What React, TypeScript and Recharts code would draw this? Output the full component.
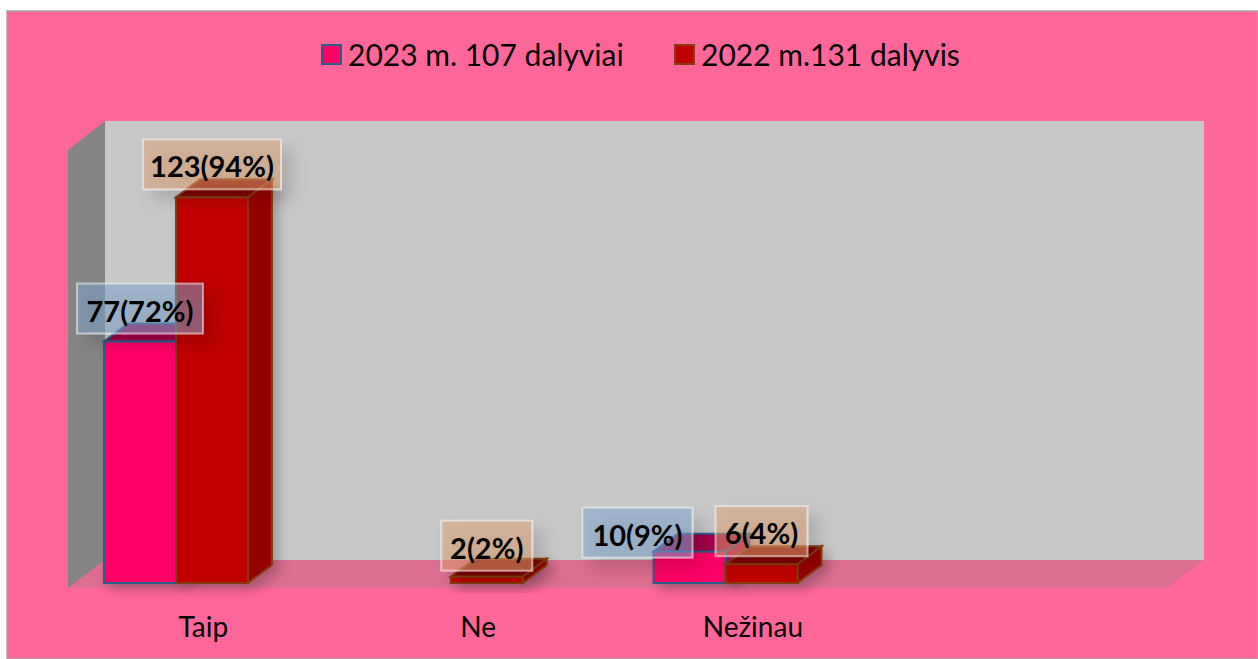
import { Bar, BarChart, LabelList, Legend, XAxis, YAxis } from "recharts";

const categories = ["Taip", "Ne", "Nežinau", ""];
const series2023 = [77, null, 10, null];
const series2022 = [123, 2, 6, null];
const labels2023 = ["77(72%)", null, "10(9%)", null];
const labels2022 = ["123(94%)", "2(2%)", "6(4%)", null];
const name2023 = "2023 m. 107 dalyviai";
const name2022 = "2022 m.131 dalyvis";

const data = categories.map((name, i) => ({
  name,
  y2023: series2023[i],
  y2022: series2022[i],
  label2023: labels2023[i],
  label2022: labels2022[i],
}));

const FONT = "Lato, 'Open Sans', sans-serif";
const DEPTH_X = 24;
const DEPTH_Y = 18;

const PINK = { front: "#FF0066", top: "#A30049", side: "#B00050", line: "#2A5C8C" };
const RED = { front: "#C00000", top: "#800000", side: "#960000", line: "#843C0C" };

// box widths of the data labels, the Excel ones hug the text
const boxWidths: Record<string, number> = {
  "123(94%)": 138,
  "77(72%)": 126,
  "2(2%)": 91,
  "10(9%)": 110,
  "6(4%)": 92,
};
// this one was dragged away from its bar in the original
const boxNudgeX: Record<string, number> = { "10(9%)": -52 };
const boxNudgeY: Record<string, number> = { "10(9%)": 14, "2(2%)": 2 };

const Bar3D = (props: any) => {
  const { x, y, width, height, colors } = props;
  if (!height || height <= 0) return null;
  const right = x + width;
  const bottom = y + height;
  return (
    <g filter="url(#barShadow)">
      <polygon
        points={`${x},${y} ${x + DEPTH_X},${y - DEPTH_Y} ${right + DEPTH_X},${y - DEPTH_Y} ${right},${y}`}
        fill={colors.top}
        stroke={colors.line}
        strokeWidth={2}
      />
      <polygon
        points={`${right},${y} ${right + DEPTH_X},${y - DEPTH_Y} ${right + DEPTH_X},${bottom - DEPTH_Y} ${right},${bottom}`}
        fill={colors.side}
        stroke={colors.line}
        strokeWidth={2}
      />
      <rect x={x} y={y} width={width} height={height} fill={colors.front} stroke={colors.line} strokeWidth={2} />
    </g>
  );
};

const makeLabel = (fill: string) => (props: any) => {
  const { x, y, width, value } = props;
  if (!value) return null;
  const w = boxWidths[value] ?? 100;
  const cx = x + width / 2 + (boxNudgeX[value] ?? 0);
  const cy = y - 33 + (boxNudgeY[value] ?? 0);
  return (
    <g>
      <rect
        x={cx - w / 2}
        y={cy - 25}
        width={w}
        height={50}
        fill={fill}
        fillOpacity={0.5}
        stroke="#fff"
        strokeOpacity={0.5}
        strokeWidth={2}
        filter="url(#boxShadow)"
      />
      <text x={cx} y={cy + 13} textAnchor="middle" fontFamily={FONT} fontWeight={700} fontSize={29} fill="#000">
        {value}
      </text>
    </g>
  );
};

const ChartLegend = () => (
  <div style={{ position: "relative", height: 0, fontFamily: FONT, fontSize: 30, color: "#000" }}>
    {[
      { name: name2023, colors: PINK, left: 321 },
      { name: name2022, colors: RED, left: 674 },
    ].map((item) => (
      <div key={item.name} style={{ position: "absolute", left: item.left, top: 0, display: "flex", alignItems: "center", whiteSpace: "nowrap", height: 40 }}>
        <span
          style={{
            width: 17,
            height: 17,
            background: item.colors.front,
            border: `2px solid ${item.colors.line}`,
            marginRight: 6,
          }}
        />
        {item.name}
      </div>
    ))}
  </div>
);

export default function App() {
  return (
    <div style={{ position: "absolute", left: 0, top: 0, width: 1258, height: 659, overflow: "hidden", background: "#fff" }}>
      <BarChart
        width={1258}
        height={659}
        data={data}
        barSize={72}
        barGap={0}
        margin={{ top: 144, right: 120, bottom: 16, left: 39 }}
      >
        <defs>
          <filter id="barShadow" x="-30%" y="-30%" width="170%" height="170%">
            <feDropShadow dx={6} dy={6} stdDeviation={6} floodColor="#000" floodOpacity={0.22} />
          </filter>
          <filter id="boxShadow" x="-30%" y="-40%" width="170%" height="190%">
            <feDropShadow dx={10} dy={10} stdDeviation={8} floodColor="#000" floodOpacity={0.28} />
          </filter>
        </defs>

        <rect x={7} y={11} width={1251} height={648} fill="#FF6699" stroke="#A8A8A8" strokeWidth={1.5} />
        <polygon points="105,121 1204,121 1204,560 105,560" fill="#C8C8C8" />
        <polygon points="68,150 105,121 105,560 68,588" fill="#858585" />
        <polygon points="68,588 105,560 1204,560 1167,588" fill="#DC6E90" />

        <YAxis yAxisId="bars" hide domain={[0, 140]} />
        <YAxis yAxisId="labels" hide domain={[0, 140]} />
        <XAxis xAxisId="bars" dataKey="name" hide />
        <XAxis
          xAxisId="labels"
          dataKey="name"
          height={60}
          dx={27}
          dy={-24}
          interval={0}
          axisLine={false}
          tickLine={false}
          tickMargin={22}
          tick={{ fill: "#000", fontSize: 28, fontFamily: FONT }}
        />
        <Legend content={<ChartLegend />} wrapperStyle={{ top: 34, left: 0, width: 1258 }} />

        <Bar
          xAxisId="bars"
          yAxisId="bars"
          dataKey="y2023"
          name={name2023}
          isAnimationActive={false}
          shape={(p: any) => <Bar3D {...p} colors={PINK} />}
        />
        <Bar
          xAxisId="bars"
          yAxisId="bars"
          dataKey="y2022"
          name={name2022}
          isAnimationActive={false}
          shape={(p: any) => <Bar3D {...p} colors={RED} />}
        />

        {/* second pair on its own axis so the labels sit above both bars */}
        <Bar xAxisId="labels" yAxisId="labels" dataKey="y2023" fill="none" legendType="none" isAnimationActive={false}>
          <LabelList dataKey="label2023" content={makeLabel("#7EA6D0")} />
        </Bar>
        <Bar xAxisId="labels" yAxisId="labels" dataKey="y2022" fill="none" legendType="none" isAnimationActive={false}>
          <LabelList dataKey="label2022" content={makeLabel("#E0A070")} />
        </Bar>
      </BarChart>
    </div>
  );
}
